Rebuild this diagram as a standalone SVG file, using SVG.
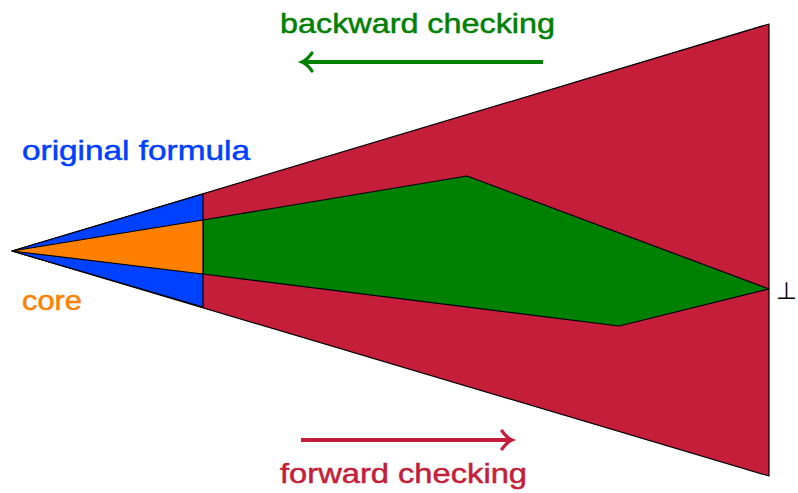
<svg xmlns="http://www.w3.org/2000/svg" width="798" height="493" viewBox="0 0 798 493">
<style>
.reg{stroke:#000;stroke-width:1.2;stroke-linejoin:round}
.lbl{font-family:"Liberation Sans",Arial,sans-serif;font-size:28px;stroke-width:0.5px}
.arr{fill:none;stroke-width:4}
</style>
<defs>
<marker id="tipG" markerUnits="userSpaceOnUse" markerWidth="20" markerHeight="24" refX="10" refY="12" orient="auto" overflow="visible">
<path d="M2,3 Q7,10 12,12 Q7,14 2,21" fill="none" stroke="#008000" stroke-width="3.2" stroke-linecap="round"/>
</marker>
<marker id="tipR" markerUnits="userSpaceOnUse" markerWidth="20" markerHeight="24" refX="10" refY="12" orient="auto" overflow="visible">
<path d="M2,3 Q7,10 12,12 Q7,14 2,21" fill="none" stroke="#c41e3a" stroke-width="3.2" stroke-linecap="round"/>
</marker>
</defs>
<rect width="798" height="493" fill="#fff"/>
<g id="forward-region"><polygon class="reg" points="12,251 769,24 769,476" fill="#c41e3a"/></g>
<g id="backward-region"><polygon class="reg" points="203,220 467,176 769,289 619,326 203,274" fill="#008000"/></g>
<g id="original-formula"><polygon class="reg" points="12,251 203,194 203,307" fill="#0040ff"/></g>
<g id="core"><polygon class="reg" points="12,251 203,220 203,274" fill="#ff8000"/></g>
<g id="connectors">
<line class="arr" x1="543" y1="62" x2="304" y2="62" stroke="#008000" marker-end="url(#tipG)"/>
<line class="arr" x1="301" y1="440" x2="510" y2="440" stroke="#c41e3a" marker-end="url(#tipR)"/>
</g>
<g id="labels">
<text class="lbl" x="280" y="33" fill="#008000" stroke="#008000" textLength="275" lengthAdjust="spacingAndGlyphs">backward checking</text>
<text class="lbl" x="280" y="483" fill="#c41e3a" stroke="#c41e3a" textLength="247" lengthAdjust="spacingAndGlyphs">forward checking</text>
<text class="lbl" x="22" y="160" fill="#0040ff" stroke="#0040ff" textLength="228" lengthAdjust="spacingAndGlyphs">original formula</text>
<text class="lbl" x="22" y="310" fill="#ff8000" stroke="#ff8000" textLength="60" lengthAdjust="spacingAndGlyphs">core</text>
<text x="776" y="299" font-family="DejaVu Sans,sans-serif" font-size="24px" fill="#000">⊥</text>
</g>
</svg>
